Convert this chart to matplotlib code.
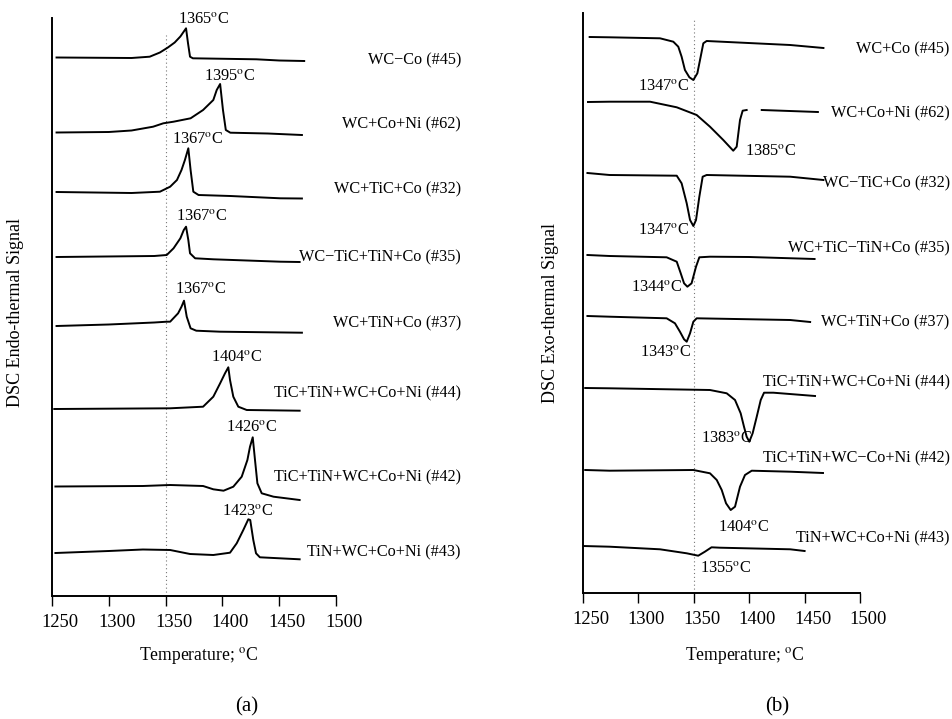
import numpy as np
import matplotlib
matplotlib.use("Agg")
import matplotlib.pyplot as plt
from matplotlib.transforms import ScaledTranslation

plt.rcParams['font.family'] = ['Liberation Serif', 'DejaVu Serif']
plt.rcParams['mathtext.fontset'] = 'stix'

# ---------------- data: panel (a) endothermic (heating) ----------------
a_names = ["WC\u2212Co (#45)", "WC+Co+Ni (#62)", "WC+TiC+Co (#32)", "WC\u2212TiC+TiN+Co (#35)",
           "WC+TiN+Co (#37)", "TiC+TiN+WC+Co+Ni (#44)", "TiC+TiN+WC+Co+Ni (#42)", "TiN+WC+Co+Ni (#43)"]
a_peaks = ["1365", "1395", "1367", "1367", "1367", "1404", "1426", "1423"]

a45_T = [1254, 1320, 1336, 1345, 1352, 1358, 1363, 1368, 1369.7, 1371.5, 1374, 1430, 1450, 1472]
a45_S = [538.5, 538, 539.3, 543.5, 548.5, 553.5, 559.5, 567.7, 553, 539.3, 537.7, 536.7, 535.5, 535]
a62_T = [1254, 1300, 1320, 1330, 1339, 1348, 1357, 1372, 1383, 1392, 1395, 1398, 1400.5, 1403, 1407, 1440, 1470]
a62_S = [463.5, 464, 465.5, 467.5, 469.3, 472.7, 474.3, 477.7, 486, 496, 506, 512, 486, 466, 463.3, 462.5, 461]
a32_T = [1254, 1320, 1345, 1354, 1360, 1364, 1367, 1370, 1372, 1374.4, 1379, 1407, 1451, 1470]
a32_S = [404, 403, 404.3, 409.3, 416, 426, 436, 447.7, 426, 404.3, 401, 400, 397.7, 397.5]
a35_T = [1254, 1340, 1351, 1357, 1363, 1366, 1368, 1370, 1371.5, 1376, 1392, 1451, 1468]
a35_S = [339, 340, 341, 347.7, 357.7, 366, 369.3, 356, 342.7, 337.7, 336.7, 334.3, 334]
a37_T = [1254, 1300, 1340, 1351, 1354, 1361, 1364, 1366.2, 1368.6, 1372, 1377, 1398, 1470]
a37_S = [270, 271.5, 273.5, 274.3, 274.3, 282.7, 289.3, 295.3, 279.3, 267.7, 265.3, 264.3, 263.3]
a44_T = [1252, 1354, 1383, 1392, 1398, 1402.3, 1405.2, 1406.7, 1409.6, 1414, 1421.4, 1468]
a44_S = [187, 187.7, 189.3, 199.3, 212.7, 222.7, 228.7, 216, 199.3, 189.3, 186, 185.3]
a42_T = [1253, 1330, 1354, 1383, 1392, 1401, 1409.6, 1417, 1422, 1424.3, 1426.7, 1428.7, 1430.8, 1434.6, 1445, 1468]
a42_S = [109.5, 110, 111, 110, 106.7, 105.3, 109.3, 119.3, 136, 149.3, 158.7, 136, 112.7, 102.7, 99.3, 96]
a43_T = [1253, 1300, 1330, 1354, 1371.5, 1392, 1406.7, 1412.6, 1418.4, 1422.8, 1424.5, 1427.2, 1429.6, 1433, 1468]
a43_S = [43, 45, 46.5, 46, 42, 41, 43.3, 52.7, 66, 76.7, 76, 56, 42.7, 38.7, 36.7]

a_curves = [(a45_T, a45_S), (a62_T, a62_S), (a32_T, a32_S), (a35_T, a35_S),
            (a37_T, a37_S), (a44_T, a44_S), (a42_T, a42_S), (a43_T, a43_S)]
a_ann_T = [1383.8, 1406.7, 1378.5, 1382, 1381, 1412.9, 1426, 1422.5]
a_ann_S = [577, 520, 457, 380, 307, 239, 169, 85]
a_lab_S = [536, 472, 407, 339, 273, 203, 119, 44]

# ---------------- data: panel (b) exothermic (cooling) ----------------
b_names = ["WC+Co (#45)", "WC+Co+Ni (#62)", "WC\u2212TiC+Co (#32)", "WC+TiC\u2212TiN+Co (#35)",
           "WC+TiN+Co (#37)", "TiC+TiN+WC+Co+Ni (#44)", "TiC+TiN+WC\u2212Co+Ni (#42)", "TiN+WC+Co+Ni (#43)"]
b_peaks = ["1347", "1385", "1347", "1344", "1343", "1383", "1404", "1355"]

b45_T = [1256, 1274, 1319.5, 1331.5, 1336, 1339, 1342, 1346, 1349.6, 1353.2, 1356.2, 1358.6, 1361.6, 1437, 1467]
b45_S = [556, 555.7, 554.7, 551.3, 546.3, 536.3, 523, 515.7, 513, 519.7, 536.3, 549.7, 552, 548, 545]
b62_T = [1254.5, 1274, 1310.5, 1334.6, 1352.6, 1364.6, 1376.6, 1385.6, 1388.7, 1391.7, 1394.1, 1397.7,
         np.nan, 1411.3, 1462]
b62_S = [491, 491.3, 491.3, 485.7, 478, 466.3, 453, 442.3, 446.3, 473, 482.3, 483, np.nan, 483, 481]
b32_T = [1254, 1274, 1334.6, 1339, 1343.6, 1346.6, 1349.6, 1352, 1355, 1358, 1361.6, 1437, 1467]
b32_S = [420, 418, 417.3, 409.7, 389.7, 373, 367, 373, 396.3, 416.3, 418, 416.3, 413]
b35_T = [1254, 1274, 1325.5, 1334.6, 1338.2, 1341.2, 1344.2, 1348, 1352, 1355, 1364.6, 1400, 1459]
b35_S = [338, 337, 335.7, 331.3, 319.7, 309.7, 306.3, 309.7, 326.3, 335.7, 336.3, 336, 334]
b37_T = [1254, 1274, 1325.5, 1333, 1337.5, 1341.2, 1343.6, 1346.6, 1349.6, 1352.6, 1437, 1455]
b37_S = [277, 276.3, 274.7, 269.7, 261.3, 253.7, 251.3, 259.7, 271.3, 274.7, 273, 271]
b44_T = [1252, 1274, 1364.6, 1379.7, 1387.2, 1392.3, 1395.3, 1397.7, 1400.1, 1403.1, 1406.8, 1410.4,
         1413.4, 1421.8, 1459.4]
b44_S = [205, 204.7, 203, 199.7, 193, 179.7, 166.3, 156.3, 151.3, 159.7, 176.3, 193, 200.3, 200.3, 197]
b42_T = [1252, 1274, 1349.6, 1364.6, 1370.7, 1375.2, 1379.1, 1383.3, 1387.2, 1391.7, 1396.2, 1402.3, 1437, 1466.6]
b42_S = [123, 122.3, 123, 119.7, 113, 103, 89.7, 83, 86.3, 106.3, 118, 122.3, 121.3, 120]
b43_T = [1250, 1274, 1319.5, 1343.6, 1354, 1360, 1366, 1373.6, 1437, 1450]
b43_S = [47, 46.3, 43.7, 39.7, 37.3, 41.3, 45.7, 45.3, 43.7, 42]

b_curves = [(b45_T, b45_S), (b62_T, b62_S), (b32_T, b32_S), (b35_T, b35_S),
            (b37_T, b37_S), (b44_T, b44_S), (b42_T, b42_S), (b43_T, b43_S)]
b_ann_T = [1323.1, 1419.7, 1323.1, 1316.8, 1324.9, 1380, 1395.3, 1379]
b_ann_S = [507, 442, 363, 306, 241, 155, 66, 25]
b_lab_S = [544, 480, 410, 345, 271, 211, 135, 55]

x_ticks = [1250, 1300, 1350, 1400, 1450, 1500]
W, H = 953, 719

fig = plt.figure(figsize=(W / 100, H / 100), dpi=100)


def make_axes(x0, x1, ytop, ybot):
    return fig.add_axes([x0 / W, (H - ybot) / H, (x1 - x0) / W, (ybot - ytop) / H])


def style(ax, ymax, dot_top, ylabel, tag, lab_T, names, lab_S, curves, ann_T, ann_S, peaks,
          cx, cy, tx, ty):
    ax.set_xlim(1250, 1500)
    ax.set_ylim(0, ymax)
    for s in ["top", "right"]:
        ax.spines[s].set_visible(False)
    for s in ["left", "bottom"]:
        ax.spines[s].set_linewidth(1.4)
    ax.set_yticks([])
    ax.set_xticks(x_ticks)
    ax.tick_params(axis="x", direction="out", length=7, width=1.0, labelsize=13.3, pad=6)
    off = ScaledTranslation(8 / 100, 0, fig.dpi_scale_trans)
    for lbl in ax.get_xticklabels():
        lbl.set_transform(lbl.get_transform() + off)
    ax.set_xlabel("Temperature; $^{\\mathrm{o}}$C", fontsize=12.7)
    ax.xaxis.set_label_coords(cx, cy)
    ax.set_ylabel(ylabel, fontsize=13)
    ax.axvline(1350, ymin=0, ymax=dot_top, color="#777777", lw=0.8, ls=(0, (1, 2.5)))
    for (T, S) in curves:
        ax.plot(T, S, color="black", lw=1.4, solid_joinstyle="round")
    for t, s, p in zip(ann_T, ann_S, peaks):
        ax.text(t, s, p + "$^{\\mathrm{o}}$C", ha="center", va="center", fontsize=11.8, clip_on=False)
    for n, s in zip(names, lab_S):
        ax.text(lab_T, s, n, ha="right", va="center", fontsize=11.7, clip_on=False)
    ax.text(tx, ty, tag, transform=ax.transAxes, ha="center", va="center", fontsize=15)


axa = make_axes(52, 336, 18, 596)
style(axa, 578, 0.97, "DSC Endo-thermal Signal", "(a)", 1610, a_names, a_lab_S,
      a_curves, a_ann_T, a_ann_S, a_peaks, 0.518, -0.085, 0.687, -0.192)
axa.yaxis.set_label_coords(-0.098, 0.491)

axb = make_axes(583, 860, 13, 593)
style(axb, 580, 0.99, "DSC Exo-thermal Signal", "(b)", 1581, b_names, b_lab_S,
      b_curves, b_ann_T, b_ann_S, b_peaks, 0.585, -0.09, 0.70, -0.197)
axb.yaxis.set_label_coords(-0.088, 0.483)

fig.savefig("out.png", dpi=100)
